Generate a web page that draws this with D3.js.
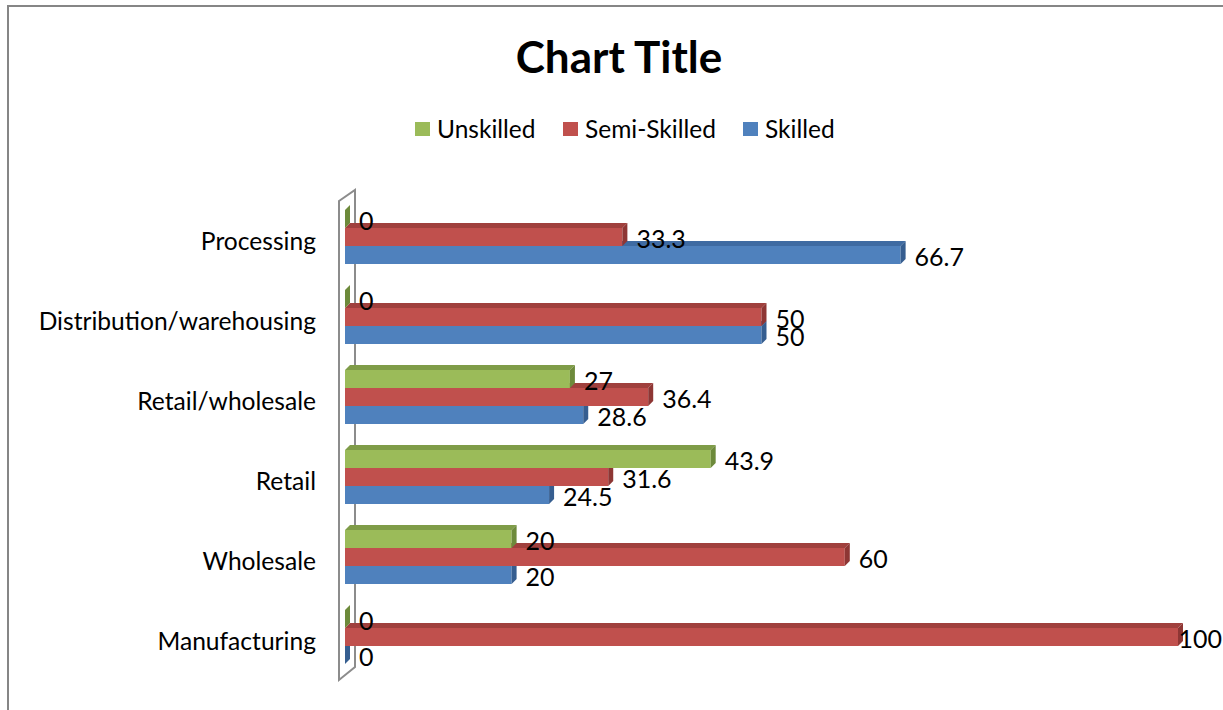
<!DOCTYPE html>
<html>
<head>
<meta charset="utf-8">
<script src="https://cdn.jsdelivr.net/npm/d3@7"></script>
<style>
  html, body { margin: 0; padding: 0; background: #fff; }
  svg { display: block; }
  text { font-family: Lato, "Open Sans", sans-serif; fill: #000; }
</style>
</head>
<body>
<svg id="chart" width="1223" height="710"></svg>
<script>
// ---- data ----
const categories = ["Processing", "Distribution/warehousing", "Retail/wholesale", "Retail", "Wholesale", "Manufacturing"];
const seriesNames = ["Unskilled", "Semi-Skilled", "Skilled"];
const unskilled   = [0, 0, 27, 43.9, 20, 0];
const semiSkilled = [33.3, 50, 36.4, 31.6, 60, 100];
const skilled     = [66.7, 50, 28.6, 24.5, 20, 0];
const xDomain = [0, 100];
const titleText = "Chart Title";

// ---- styling ----
const colors = {
  "Unskilled":    { front: "#9BBB59", top: "#7F9C48", side: "#6D8A3B" },
  "Semi-Skilled": { front: "#C0504D", top: "#A0403D", side: "#8E3634" },
  "Skilled":      { front: "#4F81BD", top: "#3F6BA2", side: "#365E90" }
};
const depthX = 5, depthY = 5;

const svg = d3.select("#chart");
const W = 1223, H = 710;

// chart border (extends beyond right/bottom)
svg.append("rect")
  .attr("x", 8).attr("y", 6).attr("width", W + 20).attr("height", H + 20)
  .attr("fill", "#fff").attr("stroke", "#868686").attr("stroke-width", 2);

const x = d3.scaleLinear().domain(xDomain).range([345, 1178]);
const y = d3.scaleBand().domain(categories).range([197, 677]).padding(0);
const ys = d3.scaleBand().domain(seriesNames).range([13, 67]).padding(0);

const seriesValues = { "Unskilled": unskilled, "Semi-Skilled": semiSkilled, "Skilled": skilled };

// back wall (thin slab)
const wx0 = x(0) - 6, wx1 = x(0) + 10;
const [yr0, yr1] = y.range();
svg.append("path")
  .attr("d", `M${wx0},${yr0 + 4} L${wx1},${yr0 - 7} L${wx1},${yr1 - 10} L${wx0},${yr1 + 3} Z`)
  .attr("fill", "#fff").attr("stroke", "#8c8c8c").attr("stroke-width", 2);

// bars: draw bottom series first so upper ones overlap top faces
const drawOrder = seriesNames.slice().reverse();
const barsG = svg.append("g");
drawOrder.forEach(s => {
  const vals = seriesValues[s];
  const c = colors[s];
  const g = barsG.append("g");
  categories.forEach((cat, i) => {
    const v = vals[i];
    const x0 = x(0), x1 = x(v);
    const y0 = y(cat) + ys(s), h = ys.bandwidth();
    // front
    g.append("rect").attr("x", x0).attr("y", y0).attr("width", Math.max(0, x1 - x0)).attr("height", h)
      .attr("fill", c.front);
    // top
    g.append("path")
      .attr("d", `M${x0},${y0} L${x0 + depthX},${y0 - depthY} L${x1 + depthX},${y0 - depthY} L${x1},${y0} Z`)
      .attr("fill", c.top);
    // side
    g.append("path")
      .attr("d", `M${x1},${y0} L${x1 + depthX},${y0 - depthY} L${x1 + depthX},${y0 + h - depthY} L${x1},${y0 + h} Z`)
      .attr("fill", c.side);
  });
});

// data labels
const labelsG = svg.append("g").attr("font-size", 25);
seriesNames.forEach(s => {
  const vals = seriesValues[s];
  categories.forEach((cat, i) => {
    const v = vals[i];
    const t = labelsG.append("text")
      .attr("x", x(v) + 14)
      .attr("y", y(cat) + ys(s) + ys.bandwidth() / 2 + 1)
      .attr("dominant-baseline", "central")
      .text(String(v));
    const w = t.node().getComputedTextLength();
    if (x(v) + 14 + w > W) t.attr("x", W - w - 1);
  });
});

// category axis
const axis = d3.axisLeft(y).tickSize(0).tickPadding(0);
const axG = svg.append("g").attr("transform", "translate(316,5)").call(axis);
axG.select(".domain").remove();
axG.selectAll("text")
  .style("font-family", "Lato, 'Open Sans', sans-serif")
  .attr("font-size", 24.6).attr("fill", "#000");

// title
svg.append("text")
  .attr("x", 619).attr("y", 73)
  .attr("text-anchor", "middle")
  .attr("font-size", 44).attr("font-weight", "bold")
  .text(titleText);

// legend
const legendX = [415, 563, 743];
const leg = svg.append("g");
seriesNames.forEach((s, i) => {
  leg.append("rect").attr("x", legendX[i]).attr("y", 122).attr("width", 15).attr("height", 14)
    .attr("fill", colors[s].front);
  leg.append("text").attr("x", legendX[i] + 22).attr("y", 128)
    .attr("dominant-baseline", "central")
    .attr("font-size", 24.5).text(s);
});
</script>
</body>
</html>
